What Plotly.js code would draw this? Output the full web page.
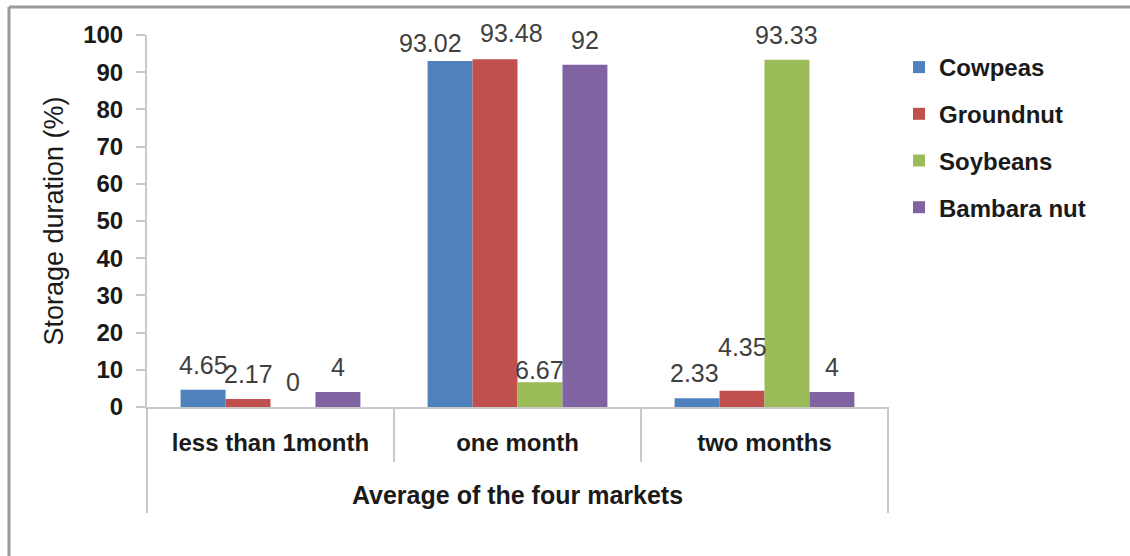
<!DOCTYPE html>
<html>
<head>
<meta charset="utf-8">
<script src="https://cdn.plot.ly/plotly-3.0.1.min.js"></script>
<style>
  html, body { margin: 0; padding: 0; background: #ffffff; }
  #chart { width: 1130px; height: 556px; }
</style>
</head>
<body>
<div id="chart"></div>
<script>
// ---- data ----
const categories = ['less than 1month', 'one month', 'two months'];
const seriesNames = ['Cowpeas', 'Groundnut', 'Soybeans', 'Bambara nut'];
const cowpeas = [4.65, 93.02, 2.33];
const groundnut = [2.17, 93.48, 4.35];
const soybeans = [0, 6.67, 93.33];
const bambaraNut = [4, 92, 4];
const yTickVals = [0, 10, 20, 30, 40, 50, 60, 70, 80, 90, 100];
const xTitle = 'Average of the four markets';
const yTitle = 'Storage duration (%)';

// ---- styling ----
const seriesValues = [cowpeas, groundnut, soybeans, bambaraNut];
const colors = ['#4F81BD', '#C0504D', '#9BBB59', '#8064A2'];
const FONT = '"Liberation Sans", Arial, sans-serif';
const W = 1130, H = 556;
const margin = { l: 147, r: 242, t: 35, b: 149, pad: 0 };
const bargap = 0.272;
const plotW = W - margin.l - margin.r;
const plotH = H - margin.t - margin.b;
const barW = plotW / categories.length * (1 - bargap) / seriesNames.length;
const axisGrey = '#c9c9c9';

// small manual label nudges (px) as in the original
const labelNudges = [
  { s: 0, c: 1, dx: -20, dy: -7 },
  { s: 1, c: 1, dx: 16, dy: 1 },
  { s: 2, c: 1, dx: 0, dy: -13 },
  { s: 1, c: 2, dx: 0, dy: 19 },
  { s: 0, c: 2, dx: -3, dy: 0 }
];

const traces = seriesNames.map((name, i) => ({
  type: 'bar',
  name: name,
  x: categories,
  y: seriesValues[i],
  marker: { color: colors[i], line: { width: 0 } },
  legendgroup: 'g' + i,
  hoverinfo: 'skip'
}));

const annotations = [];
seriesValues.forEach((vals, i) => {
  vals.forEach((v, j) => {
    const n = labelNudges.find(o => o.s === i && o.c === j) || { dx: 0, dy: 0 };
    annotations.push({
      x: categories[j], y: v, xref: 'x', yref: 'y',
      xshift: (i - (seriesNames.length - 1) / 2) * barW + n.dx,
      yshift: 25 + n.dy,
      yanchor: 'middle', xanchor: 'center',
      text: String(v), showarrow: false,
      font: { family: FONT, size: 25, color: '#404040' }
    });
  });
});

const yToPaper = px => (H - margin.b - px) / plotH;
const xToPaper = px => (px - margin.l) / plotW;

const frameStyle = { color: '#9a9a9a', width: 3 };
const shapes = [
  // outer chart frame (cropped at right/bottom in the original)
  { type: 'line', xref: 'paper', yref: 'paper',
    x0: xToPaper(9), x1: xToPaper(1135), y0: yToPaper(7), y1: yToPaper(7), line: frameStyle },
  { type: 'line', xref: 'paper', yref: 'paper',
    x0: xToPaper(9), x1: xToPaper(9), y0: yToPaper(7), y1: yToPaper(560), line: frameStyle },
  // second-level category bracket lines
  { type: 'line', xref: 'paper', yref: 'paper', x0: 0, x1: 0, y0: 0, y1: yToPaper(513),
    line: { color: axisGrey, width: 2 } },
  { type: 'line', xref: 'paper', yref: 'paper', x0: 1, x1: 1, y0: 0, y1: yToPaper(513),
    line: { color: axisGrey, width: 2 } }
];

const layout = {
  width: W, height: H,
  margin: margin,
  paper_bgcolor: '#ffffff',
  plot_bgcolor: '#ffffff',
  barmode: 'group',
  bargap: bargap,
  bargroupgap: 0,
  font: { family: FONT, color: '#1a1a1a' },
  showlegend: true,
  legend: {
    x: xToPaper(899), xanchor: 'left',
    y: yToPaper(45), yanchor: 'top',
    traceorder: 'grouped',
    tracegroupgap: 12.5,
    font: { family: FONT, size: 24, color: '#1a1a1a', weight: 'bold' },
    bgcolor: 'rgba(0,0,0,0)'
  },
  xaxis: {
    type: 'category',
    showline: true, linecolor: axisGrey, linewidth: 2,
    ticks: 'outside', tickson: 'boundaries', ticklen: 53, tickwidth: 2, tickcolor: axisGrey,
    ticklabelstandoff: 13,
    tickfont: { family: FONT, size: 24, color: '#1a1a1a', weight: 'bold' },
    showgrid: false, zeroline: false, fixedrange: true,
    title: { text: xTitle, standoff: 32,
             font: { family: FONT, size: 25, color: '#1a1a1a', weight: 'bold' } }
  },
  yaxis: {
    range: [0, 100],
    tickvals: yTickVals,
    showline: true, linecolor: axisGrey, linewidth: 2,
    ticks: 'outside', ticklen: 9, tickwidth: 2, tickcolor: axisGrey,
    ticklabelstandoff: 8,
    tickfont: { family: FONT, size: 24, color: '#1a1a1a', weight: 'bold' },
    showgrid: false, zeroline: false, fixedrange: true,
    title: { text: yTitle, standoff: 12,
             font: { family: FONT, size: 27, color: '#1a1a1a' } }
  },
  annotations: annotations,
  shapes: shapes
};

Plotly.newPlot('chart', traces, layout, { staticPlot: true, displayModeBar: false });
</script>
</body>
</html>
